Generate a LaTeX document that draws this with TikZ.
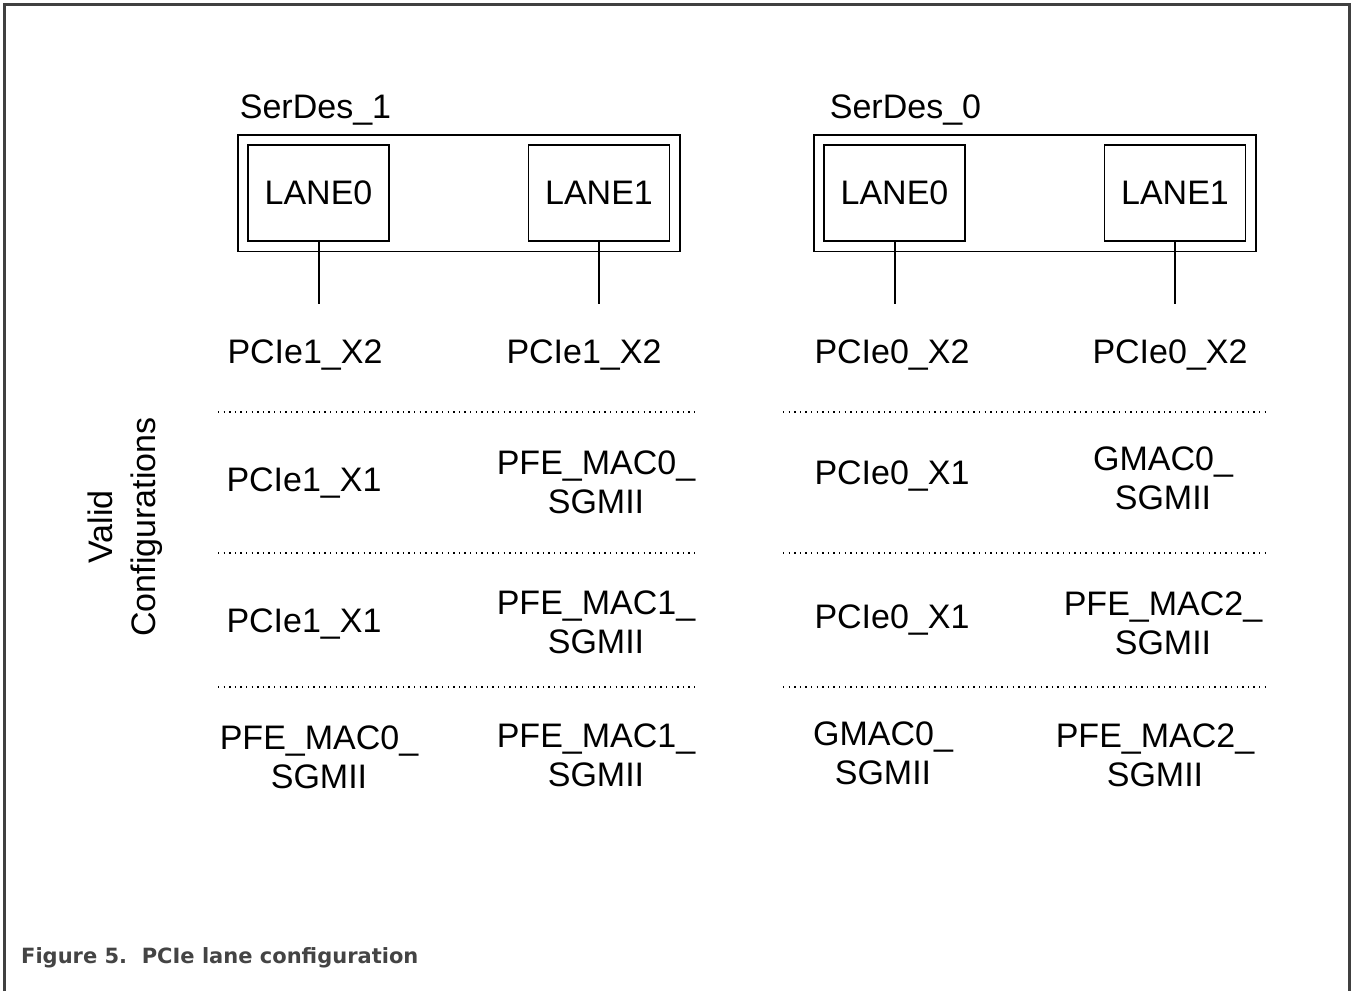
\documentclass[tikz,border=0pt]{standalone}
\usepackage{fontspec}
\setmainfont{Liberation Sans}
\newfontfamily\capfont{DejaVu Sans}
\usetikzlibrary{fit,positioning}
\definecolor{frame}{RGB}{64,64,64}
\definecolor{captext}{RGB}{68,68,68}
\tikzstyle{lane chart}=[
    x=1pt, y=-1pt,
    big text/.style={font={\fontsize{34}{39}\selectfont}},
    lane box/.style={big text, draw, line width=1.8pt, minimum width=141pt, minimum height=96pt, inner sep=0pt},
    serdes box/.style={draw, line width=1.8pt, inner sep=9.5pt},
    serdes label/.style={big text, anchor=base west, inner sep=0pt},
    cfg/.style={big text, align=center, inner sep=0pt},
    sep line/.style={line width=1.4pt, dash pattern=on 1.3pt off 4.3pt},
    tap/.style={line width=2pt},
]
\newcommand{\serdes}[4]{
    % #1 name, #2 title, #3 centre of LANE0, #4 title indent
    \node[lane box] (#1l0) at (#3,193) {LANE0};
    \node[lane box] (#1l1) at (#3+280.5,193) {LANE1};
    \node[serdes box, fit=(#1l0)(#1l1)] (#1) {};
    \node[serdes label] (#1title) at ([xshift=#4,yshift=15pt]#1.north west) {#2};
    \foreach \l in {l0,l1}{
        \coordinate (#1\l end) at ([yshift=-62pt]#1\l.south);
        \draw[tap] (#1\l.south) -- (#1\l end);
    }
}

\begin{document}
\begin{tikzpicture}[lane chart]
    \useasboundingbox (0,0) rectangle (1352,991);
    \draw[frame, line width=3pt] (4.5,991) -- (4.5,4.5) -- (1349.5,4.5) -- (1349.5,991);

    \serdes{sd1}{SerDes\_1}{318.5}{3pt}
    \serdes{sd0}{SerDes\_0}{894.5}{17pt}

    % separators
    \foreach \y in {412,553,687}{
        \draw[sep line] (218,\y) -- (698,\y);
        \draw[sep line] (783,\y) -- (1265,\y);
    }

    % configurations
    \foreach \x/\y/\t [count=\i] in {
        305/355/{PCIe1\_X2}, 584/355/{PCIe1\_X2}, 892/355/{PCIe0\_X2}, 1170/355/{PCIe0\_X2},
        304/483/{PCIe1\_X1}, 596/482/{PFE\_MAC0\_\\SGMII}, 892/476/{PCIe0\_X1}, 1163/478/{GMAC0\_\\SGMII},
        304/624/{PCIe1\_X1}, 596/622/{PFE\_MAC1\_\\SGMII}, 892/620/{PCIe0\_X1}, 1163/623/{PFE\_MAC2\_\\SGMII},
        319/757/{PFE\_MAC0\_\\SGMII}, 596/755/{PFE\_MAC1\_\\SGMII}, 883/753/{GMAC0\_\\SGMII}, 1155/755/{PFE\_MAC2\_\\SGMII}}
        \node[cfg] (cfg\i) at (\x,\y) {\t};

    \node[cfg, rotate=90, font={\fontsize{34}{43}\selectfont}] (valid) at (125,527) {Valid\\Configurations};

    \node[anchor=base west, inner sep=0pt, text=captext, font={\capfont\bfseries\fontsize{21}{24}\selectfont}] (caption) at (21,963) {Figure 5.\ \ PCIe lane configuration};
\end{tikzpicture}
\end{document}
